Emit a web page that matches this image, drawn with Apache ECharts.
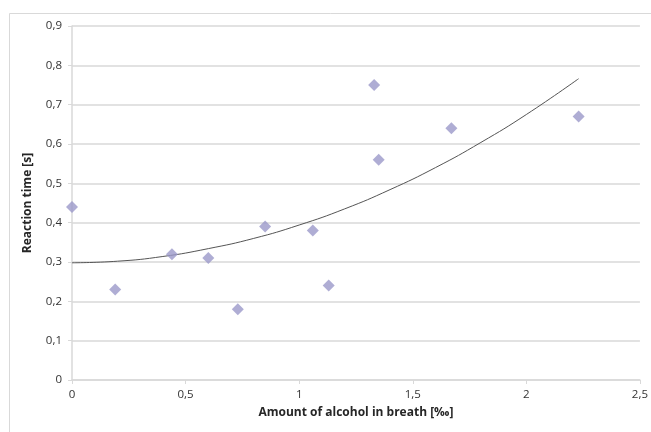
<!DOCTYPE html>
<html>
<head>
<meta charset="utf-8">
<script src="https://cdn.jsdelivr.net/npm/echarts@6/dist/echarts.min.js"></script>
<style>html,body{margin:0;padding:0;background:#fff}#c{width:651px;height:432px}</style>
</head>
<body>
<div id="c"></div>
<script>
// Measured points: alcohol in breath [‰] vs reaction time [s]
const alcohol = [0, 0.19, 0.44, 0.60, 0.73, 0.85, 1.06, 1.13, 1.33, 1.35, 1.67, 2.23];
const reaction = [0.44, 0.23, 0.32, 0.31, 0.18, 0.39, 0.38, 0.24, 0.75, 0.56, 0.64, 0.67];
// Trend line
const trendX = [0, 0.2, 0.4, 0.6, 0.8, 1.0, 1.2, 1.4, 1.6, 1.8, 2.0, 2.23];
const trendY = [0.298, 0.302, 0.314, 0.334, 0.360, 0.394, 0.435, 0.484, 0.540, 0.604, 0.675, 0.766];
const xTitle = 'Amount of alcohol in breath [‰]';
const yTitle = 'Reaction time [s]';

const chart = echarts.init(document.getElementById('c'));
const comma = v => String(Math.round(v * 10) / 10).replace('.', ',');
const font = '"Open Sans", "DejaVu Sans", sans-serif';
chart.setOption({
  animation: false,
  backgroundColor: '#fff',
  graphic: [{
    type: 'rect', left: 7, top: 11, silent: true,
    shape: { width: 700, height: 500 },
    style: { fill: 'none', stroke: '#d9d9d9', lineWidth: 1 }
  }],
  grid: { left: 72, right: 8, top: 26, bottom: 52 },
  xAxis: {
    type: 'value', min: 0, max: 2.5, interval: 0.5,
    name: xTitle, nameLocation: 'middle', nameGap: 27,
    nameTextStyle: { fontFamily: font, fontSize: 12, fontWeight: 'bold', color: '#262626' },
    axisLine: { show: true, lineStyle: { color: '#d9d9d9', width: 1.5 } },
    axisTick: { show: true, length: 4, lineStyle: { color: '#d9d9d9' } },
    axisLabel: { formatter: comma, fontFamily: font, fontSize: 11.5, color: '#333', margin: 9 },
    splitLine: { show: false }
  },
  yAxis: {
    type: 'value', min: 0, max: 0.9, interval: 0.1,
    name: yTitle, nameLocation: 'middle', nameGap: 38, nameRotate: 90,
    nameTextStyle: { fontFamily: font, fontSize: 12, fontWeight: 'bold', color: '#262626' },
    axisLine: { show: true, lineStyle: { color: '#d9d9d9', width: 1.5 } },
    axisTick: { show: true, length: 4, lineStyle: { color: '#d9d9d9' } },
    axisLabel: { formatter: comma, fontFamily: font, fontSize: 11.5, color: '#333', margin: 10 },
    splitLine: { show: true, lineStyle: { color: '#d9d9d9', width: 1.5 } }
  },
  series: [
    {
      type: 'line', data: trendX.map((x, i) => [x, trendY[i]]),
      smooth: true, showSymbol: false, silent: true,
      lineStyle: { color: '#555', width: 1 }, z: 2
    },
    {
      type: 'scatter', data: alcohol.map((x, i) => [x, reaction[i]]),
      symbol: 'diamond', symbolSize: 12,
      itemStyle: { color: '#9b98c9' }, z: 3
    }
  ]
});
</script>
</body>
</html>
